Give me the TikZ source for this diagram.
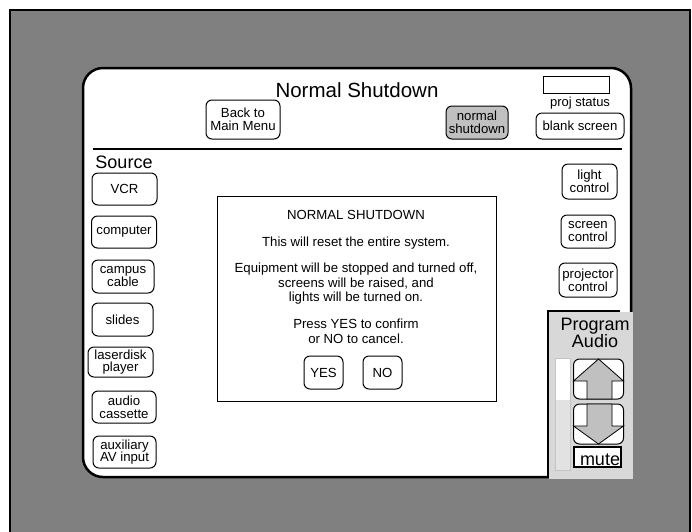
\documentclass[tikz,border=0pt]{standalone}
\usepackage{fontspec}
\setmainfont{Liberation Sans}
\definecolor{bggray}{HTML}{808080}
\definecolor{btngray}{HTML}{C0C0C0}
\definecolor{panelgray}{HTML}{D8D8D8}
\definecolor{slidergray}{HTML}{E2E2E2}
\definecolor{sliderline}{HTML}{C4C4C4}
\begin{document}
\begin{tikzpicture}[x=1pt,y=-1pt,
  btn/.style={draw, rounded corners=6pt, line width=1pt, fill=white, align=center,
    inner sep=0pt, font=\fontsize{13.2}{12.6}\selectfont},
  txt/.style={inner sep=0pt, align=center, font=\fontsize{13.2}{14.5}\selectfont},
  big/.style={inner sep=0pt, align=center, font=\fontsize{18}{17}\selectfont},
  arrowshape/.style={draw, fill=btngray, line width=0.8pt, line join=miter}]
\useasboundingbox (0,0) rectangle (692,531);
\fill[white] (0,0) rectangle (692,531);
\draw[fill=bggray, line width=1.5pt] (10,10) rectangle (690,540);
% main panel
\draw[fill=white, line width=2.5pt, rounded corners=20pt] (83,68) rectangle (631,477);
% header
\node[inner sep=0pt, font=\fontsize{20.5}{20}\selectfont] (title) at (357,90) {Normal Shutdown};
\node[btn, minimum width=74pt, minimum height=39pt] (back) at (243,119.5) {Back to\\Main Menu};
\node[btn, fill=btngray, minimum width=62pt, minimum height=33pt] (nshut) at (477,122.5) {normal\\shutdown};
\node[draw, line width=1pt, minimum width=66pt, minimum height=17pt, inner sep=0pt] (pstat) at (576.5,84.5) {};
\node[inner sep=0pt, font=\fontsize{13}{13}\selectfont] (pstatlbl) at (580,103) {proj status};
\node[btn, minimum width=88pt, minimum height=26pt] (blank) at (580,126) {blank screen};
\coordinate (sepL) at (93,148.5);
\coordinate (sepR) at (622,148.5);
\draw[line width=2pt] (sepL) -- (sepR);
% source column
\node[big] (source) at (124,162) {Source};
\node[btn, minimum width=65pt, minimum height=32pt] (vcr) at (124.5,189) {VCR};
\node[btn, minimum width=65pt, minimum height=32pt] (comp) at (124,232) {computer};
\node[btn, minimum width=62pt, minimum height=33pt] (campus) at (123,276.5) {campus\\cable};
\node[btn, minimum width=61pt, minimum height=33pt] (slides) at (122.5,319.5) {slides};
\node[btn, minimum width=65pt, minimum height=30pt] (laser) at (120.5,362) {laserdisk\\player};
\node[btn, minimum width=64pt, minimum height=32pt] (audio) at (124,407) {audio\\cassette};
\node[btn, minimum width=63pt, minimum height=32pt] (aux) at (124.5,452) {auxiliary\\AV input};
% right column
\node[btn, minimum width=55pt, minimum height=35pt] (light) at (589.5,181.5) {light\\control};
\node[btn, minimum width=54pt, minimum height=33pt] (screen) at (588,231.5) {screen\\control};
\node[btn, minimum width=58pt, minimum height=34pt] (proj) at (588,280) {projector\\control};
% dialog
\node[draw, line width=1pt, fill=white, minimum width=279pt, minimum height=205pt, inner sep=0pt] (dialog) at (356.5,298.5) {};
\node[txt] (d1) at (356,215) {NORMAL SHUTDOWN};
\node[txt] (d2) at (356,243) {This will reset the entire system.};
\node[txt] (d3) at (356,284) {Equipment will be stopped and turned off,\\screens will be raised, and\\lights will be turned on.};
\node[txt] (d4) at (356,331.5) {Press YES to confirm\\or NO to cancel.};
\node[btn, minimum width=39pt, minimum height=33pt] (yes) at (323.5,372.5) {YES};
\node[btn, minimum width=39pt, minimum height=33pt] (no) at (382.5,372.5) {NO};
% program audio panel
\fill[panelgray] (549,312) rectangle (632.5,479);
\draw[line width=2pt] (548,477) -- (548,311) -- (620,311);
\node[big] (prog) at (595,333) {Program\\Audio};
\fill[white] (555,358) rectangle (570,400);
\fill[slidergray] (555,400) rectangle (570,470);
\draw[sliderline, line width=0.8pt] (555,358) rectangle (570,470);
\node[btn, minimum width=50pt, minimum height=40pt] (upbtn) at (598.5,379) {};
\draw[arrowshape] (598.5,359) -- (623.5,381) -- (612,381) -- (612,399) -- (587,399) -- (587,381) -- (573.5,381) -- cycle;
\node[btn, minimum width=50pt, minimum height=40pt] (downbtn) at (598.5,424) {};
\draw[arrowshape] (587,404) -- (612,404) -- (612,426) -- (623.5,426) -- (598.5,444) -- (573.5,426) -- (587,426) -- cycle;
\node[draw, line width=1.2pt, fill=white, minimum width=47pt, minimum height=20pt, inner sep=0pt] (mute) at (597.5,457) {};
\node[anchor=base, inner sep=0pt, font=\fontsize{18}{18}\selectfont] (mutetxt) at (600,465) {mute};
\end{tikzpicture}
\end{document}
